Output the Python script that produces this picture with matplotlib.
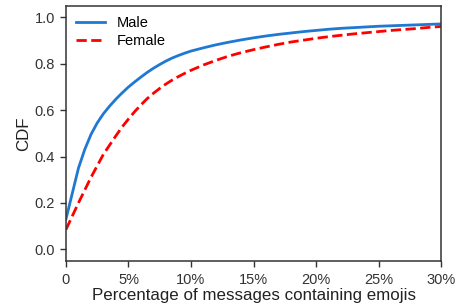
import matplotlib
matplotlib.use("Agg")
import matplotlib.pyplot as plt
import numpy as np

pct = [0, 1, 1.5, 2, 2.5, 3, 3.5, 4, 4.5, 5, 5.5, 6, 6.5, 7, 7.5, 8, 8.5, 9, 9.5, 10,
       11, 12, 13, 14, 15, 16, 17, 18, 19, 20, 21, 22, 23, 24, 25, 26, 27, 28, 29, 30]
male = [0.13, 0.35, 0.43, 0.495, 0.545, 0.585, 0.618, 0.648, 0.675, 0.700, 0.722,
        0.743, 0.763, 0.781, 0.797, 0.812, 0.825, 0.836, 0.846, 0.855,
        0.869, 0.882, 0.893, 0.903, 0.912, 0.920, 0.927, 0.933, 0.939, 0.944,
        0.949, 0.953, 0.956, 0.959, 0.962, 0.964, 0.966, 0.968, 0.970, 0.972]
female = [0.085, 0.20, 0.255, 0.31, 0.36, 0.41, 0.45, 0.49, 0.528, 0.562, 0.594,
          0.623, 0.650, 0.673, 0.694, 0.713, 0.730, 0.745, 0.759, 0.772,
          0.795, 0.815, 0.833, 0.848, 0.861, 0.873, 0.884, 0.894, 0.902, 0.910,
          0.917, 0.923, 0.929, 0.934, 0.939, 0.944, 0.948, 0.952, 0.957, 0.961]
xticks = [0, 5, 10, 15, 20, 25, 30]
xticklabels = ["0", "5%", "10%", "15%", "20%", "25%", "30%"]
yticks = [0.0, 0.2, 0.4, 0.6, 0.8, 1.0]

plt.rcParams['font.family'] = ['Liberation Sans', 'DejaVu Sans']
fig = plt.figure(figsize=(4.58, 3.08), dpi=100)
ax = fig.add_axes([0.144, 0.153, 0.819, 0.828])
ax.plot(pct, male, color='#1f78d1', lw=2, label='Male')
ax.plot(pct, female, color='red', lw=2, ls='--', label='Female')
ax.set_xlim(0, 30)
ax.set_ylim(-0.05, 1.05)
ax.set_xticks(xticks)
ax.set_xticklabels(xticklabels)
ax.set_yticks(yticks)
ax.set_yticklabels([f"{v:.1f}" for v in yticks])
for s in ax.spines.values():
    s.set_color('#333333')
    s.set_linewidth(1.1)
ax.tick_params(axis='both', direction='out', length=4, width=1, color='#333333',
               labelsize=10.5, labelcolor='#333333')
ax.tick_params(axis='x', pad=5)
ax.tick_params(axis='y', pad=4)
ax.set_xlabel('Percentage of messages containing emojis', fontsize=12.2, color='#222222', labelpad=0.5)
ax.set_ylabel('CDF', fontsize=12.2, color='#222222', labelpad=2)
ax.legend(loc='upper left', frameon=False, fontsize=10.5, handlelength=2.0,
          borderaxespad=0.3, labelspacing=0.3)
fig.savefig('out.png', dpi=100)
